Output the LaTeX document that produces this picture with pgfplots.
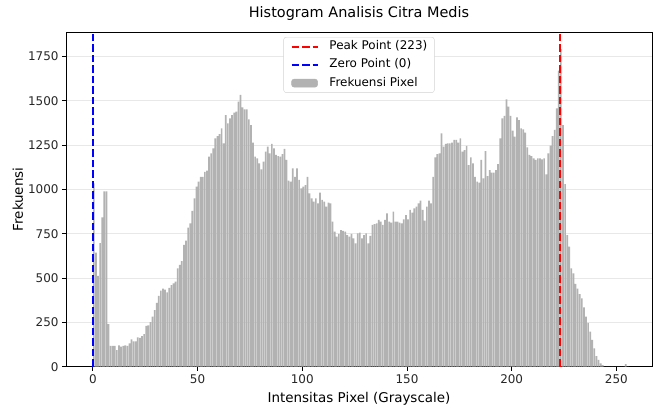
\documentclass[border=0pt]{standalone}
\usepackage{pgfplots}
\pgfplotsset{compat=1.18}
\usepackage{fontspec}
\setmainfont{DejaVu Sans}
\definecolor{barcol}{RGB}{178,178,178}
\definecolor{gridcol}{RGB}{232,232,232}
\definecolor{legframe}{RGB}{210,210,210}
\begin{document}
\begin{tikzpicture}[x=1bp,y=1bp]
\useasboundingbox (-66bp,-43.3bp) rectangle (587bp,366.7bp);
\begin{axis}[
  at={(0bp,0bp)}, anchor=south west,
  scale only axis, width=586bp, height=334.7bp,
  xmin=-12.8, xmax=267, ymin=0, ymax=1889,
  xtick={0,50,100,150,200,250},
  xticklabels={0,50,100,150,200,250},
  ytick={0,250,500,750,1000,1250,1500,1750},
  yticklabels={0,250,500,750,1000,1250,1500,1750},
  tick pos=left, tick align=outside,
  major tick length=4bp,
  every tick/.style={black, line width=0.9bp},
  axis line style={black, line width=0.9bp},
  ymajorgrids, grid style={gridcol, line width=0.9bp},
  ticklabel style={font=\fontsize{12}{14}\selectfont, text=black!85},
  title={Histogram Analisis Citra Medis},
  title style={at={(axis description cs:0.5,1.0254)}, anchor=base, yshift=0pt, inner sep=0pt, font=\fontsize{14.5}{17}\selectfont},
  xlabel={Intensitas Pixel (Grayscale)},
  xlabel style={at={(axis description cs:0.5,-0.1055)}, anchor=base, inner sep=0pt, font=\fontsize{13.5}{16}\selectfont},
  ylabel={Frekuensi},
  ylabel style={at={(axis description cs:-0.0734,0.5)}, anchor=base, inner sep=0pt, font=\fontsize{13.5}{16}\selectfont},
  legend style={at={(axis description cs:0.5,0.985)}, anchor=north, draw=legframe, rounded corners=2.5bp, fill=white,
    font=\fontsize{12}{14}\selectfont, inner xsep=7bp, inner ysep=3.5bp, row sep=6.2bp, column sep=11bp,
    nodes={inner sep=0pt, text height=9bp, text depth=3bp}},
  legend cell align=left,
]
\addlegendimage{legend image code/.code={\draw[red, line width=1.8bp, dash pattern=on 7.5bp off 3bp] (0bp,0bp) -- (26bp,0bp);}}
\addlegendentry{Peak Point (223)}
\addlegendimage{legend image code/.code={\draw[blue, line width=1.8bp, dash pattern=on 7.5bp off 3bp] (0bp,0bp) -- (26bp,0bp);}}
\addlegendentry{Zero Point (0)}
\addlegendimage{legend image code/.code={\fill[barcol] (0bp,-4bp) rectangle (26bp,4bp);}}
\addlegendentry{Frekuensi Pixel}

\addplot[ybar, bar width=0.8, bar shift=0pt, fill=barcol, draw=none, forget plot] coordinates {
(0.5,1035) (1.5,644) (2.5,512) (3.5,697) (4.5,843) (5.5,990) (6.5,990) (7.5,240) (8.5,117) (9.5,117)
(10.5,117) (11.5,94) (12.5,120) (13.5,113) (14.5,117) (15.5,120) (16.5,117) (17.5,132) (18.5,154) (19.5,143)
(20.5,143) (21.5,166) (22.5,162) (23.5,173) (24.5,184) (25.5,230) (26.5,233) (27.5,252) (28.5,282) (29.5,320)
(30.5,360) (31.5,400) (32.5,430) (33.5,440) (34.5,435) (35.5,420) (36.5,445) (37.5,460) (38.5,470) (39.5,480)
(40.5,555) (41.5,574) (42.5,596) (43.5,687) (44.5,711) (45.5,785) (46.5,809) (47.5,879) (48.5,950) (49.5,1016)
(50.5,1044) (51.5,1072) (52.5,1072) (53.5,1100) (54.5,1106) (55.5,1185) (56.5,1204) (57.5,1232) (58.5,1289) (59.5,1302)
(60.5,1313) (61.5,1345) (62.5,1261) (63.5,1420) (64.5,1373) (65.5,1402) (66.5,1420) (67.5,1434) (68.5,1440) (69.5,1496)
(70.5,1534) (71.5,1464) (72.5,1453) (73.5,1453) (74.5,1396) (75.5,1364) (76.5,1264) (77.5,1185) (78.5,1176) (79.5,1148)
(80.5,1114) (81.5,1157) (82.5,1214) (83.5,1242) (84.5,1204) (85.5,1257) (86.5,1232) (87.5,1195) (88.5,1189) (89.5,1185)
(90.5,1200) (91.5,1229) (92.5,1167) (93.5,1050) (94.5,1044) (95.5,1120) (96.5,1072) (97.5,1120) (98.5,1054) (99.5,1007)
(100.5,1016) (101.5,1025) (102.5,1072) (103.5,978) (104.5,950) (105.5,931) (106.5,950) (107.5,922) (108.5,982) (109.5,941)
(110.5,931) (111.5,903) (112.5,926) (113.5,922) (114.5,819) (115.5,762) (116.5,734) (117.5,749) (118.5,771) (119.5,766)
(120.5,762) (121.5,743) (122.5,734) (123.5,749) (124.5,724) (125.5,696) (126.5,753) (127.5,756) (128.5,724) (129.5,743)
(130.5,753) (131.5,696) (132.5,738) (133.5,800) (134.5,805) (135.5,809) (136.5,828) (137.5,819) (138.5,800) (139.5,828)
(140.5,866) (141.5,819) (142.5,813) (143.5,875) (144.5,819) (145.5,819) (146.5,813) (147.5,809) (148.5,832) (149.5,856)
(150.5,832) (151.5,885) (152.5,869) (153.5,894) (154.5,903) (155.5,922) (156.5,937) (157.5,885) (158.5,824) (159.5,903)
(160.5,937) (161.5,922) (162.5,1072) (163.5,1182) (164.5,1200) (165.5,1204) (166.5,1317) (167.5,1242) (168.5,1257) (169.5,1261)
(170.5,1261) (171.5,1264) (172.5,1280) (173.5,1280) (174.5,1264) (175.5,1289) (176.5,1214) (177.5,1223) (178.5,1246) (179.5,1138)
(180.5,1182) (181.5,1148) (182.5,1072) (183.5,1044) (184.5,1039) (185.5,1167) (186.5,1063) (187.5,1217) (188.5,1076) (189.5,1110)
(190.5,1095) (191.5,1095) (192.5,1110) (193.5,1144) (194.5,1289) (195.5,1402) (196.5,1415) (197.5,1509) (198.5,1468) (199.5,1415)
(200.5,1332) (201.5,1298) (202.5,1407) (203.5,1392) (204.5,1345) (205.5,1340) (206.5,1321) (207.5,1238) (208.5,1195) (209.5,1189)
(210.5,1176) (211.5,1167) (212.5,1176) (213.5,1176) (214.5,1170) (215.5,1176) (216.5,1086) (217.5,1204) (218.5,1248) (219.5,1302)
(220.5,1336) (221.5,1458) (222.5,1671) (223.5,1792) (224.5,1364) (225.5,1031) (226.5,743) (227.5,677) (228.5,555) (229.5,527)
(230.5,467) (231.5,440) (232.5,410) (233.5,386) (234.5,335) (235.5,282) (236.5,248) (237.5,198) (238.5,151) (239.5,104)
(240.5,60) (241.5,38) (242.5,19) (243.5,9) (244.5,0) (245.5,0) (246.5,0) (247.5,0) (248.5,0) (249.5,0)
(250.5,0) (251.5,0) (252.5,0) (253.5,0) (254.5,15) (255.5,0)
};
\addplot[red, line width=1.6bp, dash pattern=on 7.5bp off 3bp, forget plot] coordinates {(223,0) (223,1889)};
\addplot[blue, line width=1.6bp, dash pattern=on 7.5bp off 3bp, forget plot] coordinates {(0,0) (0,1889)};
\end{axis}
\end{tikzpicture}
\end{document}
